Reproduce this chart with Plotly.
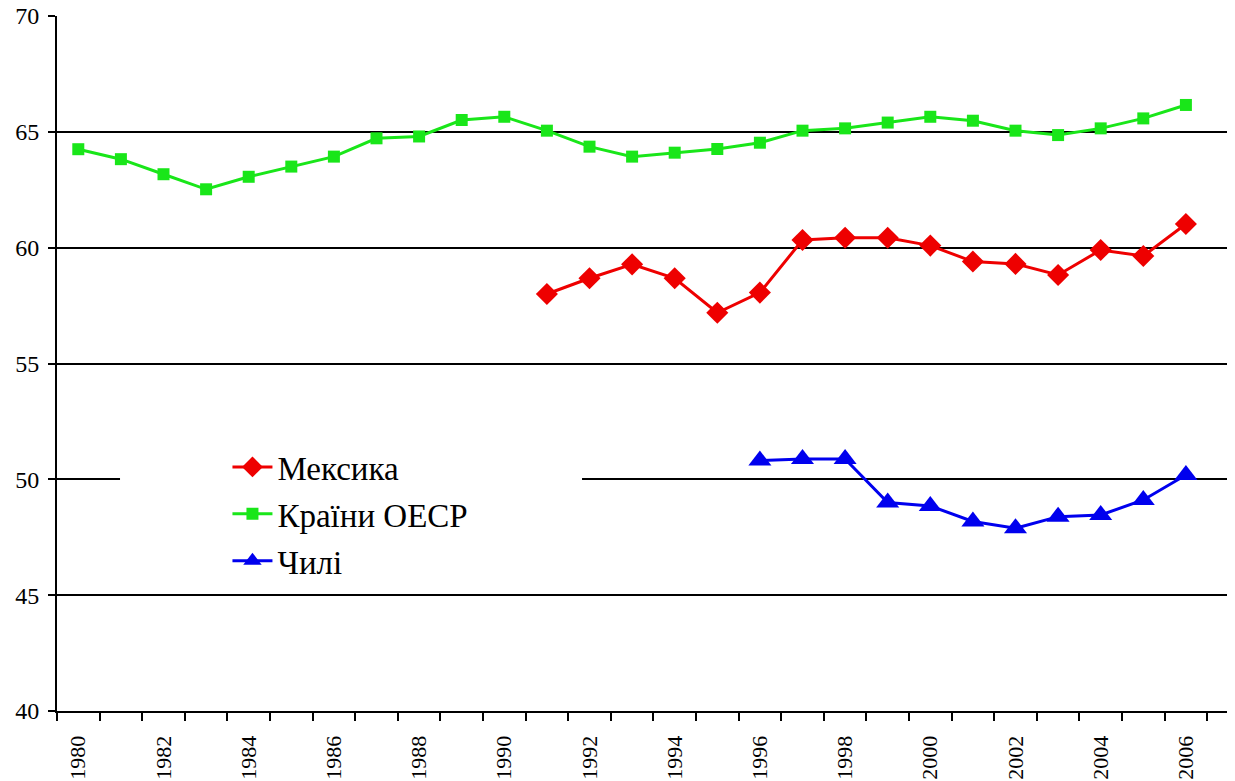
import plotly.graph_objects as go

years_oecd = list(range(1980, 2007))
oecd = [64.25, 63.82, 63.17, 62.52, 63.06, 63.5, 63.93, 64.72, 64.8, 65.51, 65.65,
        65.05, 64.36, 63.93, 64.1, 64.26, 64.53, 65.05, 65.15, 65.4, 65.65, 65.48,
        65.05, 64.86, 65.15, 65.58, 66.16]

years_mex = list(range(1991, 2007))
mexico = [58.0, 58.68, 59.28, 58.68, 57.19, 58.06, 60.33, 60.43, 60.43, 60.09,
          59.4, 59.3, 58.82, 59.9, 59.64, 61.02]

years_chl = list(range(1996, 2007))
chile = [50.81, 50.88, 50.88, 49.0, 48.85, 48.18, 47.89, 48.39, 48.46, 49.11, 50.19]

label_years = list(range(1980, 2007, 2))
boundaries = [y - 0.5 for y in range(1980, 2009)]
y_ticks = [40, 45, 50, 55, 60, 65, 70]

names = ["Мексика", "Країни ОЕСР", "Чилі"]
colors = ["#ee0000", "#19e619", "#0000ee"]

FONT = "Liberation Serif"

fig = go.Figure()
fig.add_trace(go.Scatter(x=years_mex, y=mexico, name=names[0], mode="lines+markers",
                         legendgroup="a",
                         line=dict(color=colors[0], width=3),
                         marker=dict(symbol="diamond", size=17, color=colors[0])))
fig.add_trace(go.Scatter(x=years_oecd, y=oecd, name=names[1], mode="lines+markers",
                         legendgroup="b",
                         line=dict(color=colors[1], width=3),
                         marker=dict(symbol="square", size=12, color=colors[1])))
fig.add_trace(go.Scatter(x=years_chl, y=chile, name=names[2], mode="lines+markers",
                         legendgroup="c",
                         line=dict(color=colors[2], width=3),
                         marker=dict(symbol="triangle-up", size=20, color=colors[2])))

# white legend background covering the 50 gridline
fig.add_shape(type="rect", xref="paper", yref="y", x0=0.0535, x1=0.4457, y0=49.6, y1=50.4,
              fillcolor="white", line=dict(width=0), layer="above")

# the page body has an 8px default margin, so the figure is 8px smaller
fig.update_layout(
    template="none",
    width=1227, height=773,
    margin=dict(l=49, r=0, t=8, b=70),
    paper_bgcolor="white", plot_bgcolor="white",
    font=dict(family=FONT, color="black"),
    showlegend=True,
    legend=dict(x=0.1447, xanchor="left", y=0.2835, yanchor="middle",
                bgcolor="rgba(0,0,0,0)", font=dict(family=FONT, size=33, color="black"),
                tracegroupgap=1, itemwidth=40),
    xaxis=dict(range=[1979.5, 1979.5 + 1178 / 42.6], tickmode="array",
               tickvals=label_years, ticktext=[str(y) for y in label_years],
               tickangle=-90, ticks="", ticklabelstandoff=14,
               tickfont=dict(family=FONT, size=22, color="black"),
               showline=True, linecolor="black", linewidth=2, showgrid=False,
               zeroline=False,
               minor=dict(tickmode="array", tickvals=boundaries, ticks="outside",
                          ticklen=8, tickwidth=2, tickcolor="black", showgrid=False)),
    yaxis=dict(range=[40, 70], tickmode="array", tickvals=y_ticks,
               ticktext=[str(v) for v in y_ticks],
               ticklabeloverflow="allow", ticklabelstandoff=4,
               ticks="outside", ticklen=7, tickwidth=2, tickcolor="black",
               tickfont=dict(family=FONT, size=24, color="black"),
               showline=True, linecolor="black", linewidth=2,
               showgrid=True, gridcolor="black", gridwidth=2, zeroline=False),
)

fig.write_html("out.html")
